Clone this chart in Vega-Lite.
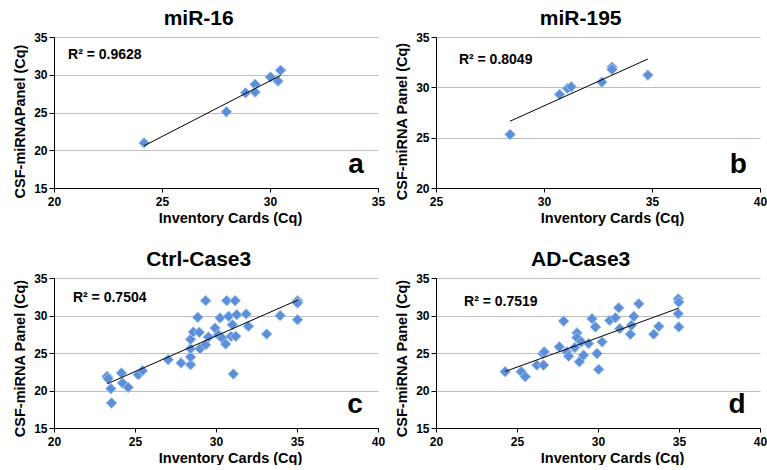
{
  "$schema": "https://vega.github.io/schema/vega-lite/v6.json",
  "background": "white",
  "padding": {"left": 12, "top": 8, "right": 0, "bottom": 0},
  "datasets": {
    "a": [
      {"cards": 24.17, "panel": 20.97}, {"cards": 27.98, "panel": 25.09}, {"cards": 28.87, "panel": 27.61},
      {"cards": 29.31, "panel": 28.72}, {"cards": 29.31, "panel": 27.7}, {"cards": 30.02, "panel": 29.69},
      {"cards": 30.37, "panel": 29.16}, {"cards": 30.49, "panel": 30.58}
    ],
    "b": [
      {"cards": 28.43, "panel": 25.31}, {"cards": 30.72, "panel": 29.29}, {"cards": 31.09, "panel": 29.89},
      {"cards": 31.26, "panel": 30.05}, {"cards": 32.68, "panel": 30.52}, {"cards": 33.15, "panel": 32.01},
      {"cards": 33.15, "panel": 31.78}, {"cards": 34.81, "panel": 31.22}
    ],
    "c": [
      {"cards": 23.28, "panel": 21.89}, {"cards": 23.34, "panel": 21.58}, {"cards": 23.51, "panel": 20.24},
      {"cards": 23.55, "panel": 18.33}, {"cards": 24.16, "panel": 22.33}, {"cards": 24.23, "panel": 21.0},
      {"cards": 24.58, "panel": 20.42}, {"cards": 25.2, "panel": 22.11}, {"cards": 25.46, "panel": 22.64},
      {"cards": 27.05, "panel": 24.11}, {"cards": 27.84, "panel": 23.67}, {"cards": 28.43, "panel": 23.44},
      {"cards": 28.43, "panel": 24.47}, {"cards": 28.43, "panel": 25.58}, {"cards": 28.43, "panel": 26.82},
      {"cards": 28.6, "panel": 27.8}, {"cards": 28.87, "panel": 29.76}, {"cards": 28.97, "panel": 27.76},
      {"cards": 29.01, "panel": 25.58}, {"cards": 29.36, "panel": 31.98}, {"cards": 29.36, "panel": 26.11},
      {"cards": 29.53, "panel": 27.13}, {"cards": 29.94, "panel": 28.33}, {"cards": 30.25, "panel": 29.67},
      {"cards": 30.14, "panel": 27.44}, {"cards": 30.37, "panel": 27.0}, {"cards": 30.6, "panel": 26.2},
      {"cards": 30.66, "panel": 31.98}, {"cards": 30.78, "panel": 29.89}, {"cards": 30.93, "panel": 27.22},
      {"cards": 31.01, "panel": 28.78}, {"cards": 31.07, "panel": 22.2}, {"cards": 31.18, "panel": 31.98},
      {"cards": 31.22, "panel": 27.22}, {"cards": 31.28, "panel": 30.11}, {"cards": 31.86, "panel": 30.2},
      {"cards": 32.0, "panel": 28.56}, {"cards": 33.13, "panel": 27.53}, {"cards": 33.96, "panel": 29.98},
      {"cards": 35.03, "panel": 31.98}, {"cards": 35.03, "panel": 31.67}, {"cards": 35.03, "panel": 29.44}
    ],
    "d": [
      {"cards": 24.27, "panel": 22.51}, {"cards": 25.26, "panel": 22.51}, {"cards": 25.51, "panel": 21.84},
      {"cards": 26.23, "panel": 23.39}, {"cards": 26.6, "panel": 24.93}, {"cards": 26.64, "panel": 23.39},
      {"cards": 26.68, "panel": 25.15}, {"cards": 27.61, "panel": 25.82}, {"cards": 27.88, "panel": 29.26},
      {"cards": 28.08, "panel": 25.15}, {"cards": 28.19, "panel": 24.58}, {"cards": 28.56, "panel": 25.73},
      {"cards": 28.7, "panel": 27.67}, {"cards": 28.7, "panel": 27.05}, {"cards": 28.85, "panel": 23.83},
      {"cards": 28.97, "panel": 26.48}, {"cards": 29.11, "panel": 24.71}, {"cards": 29.42, "panel": 26.26},
      {"cards": 29.63, "panel": 29.57}, {"cards": 29.84, "panel": 28.47}, {"cards": 29.94, "panel": 24.93},
      {"cards": 30.04, "panel": 22.81}, {"cards": 30.25, "panel": 26.48}, {"cards": 30.72, "panel": 29.35},
      {"cards": 31.07, "panel": 29.7}, {"cards": 31.28, "panel": 31.03}, {"cards": 31.34, "panel": 28.25},
      {"cards": 32.0, "panel": 27.5}, {"cards": 32.06, "panel": 28.69}, {"cards": 32.21, "panel": 29.88},
      {"cards": 32.52, "panel": 31.56}, {"cards": 33.44, "panel": 27.5}, {"cards": 33.75, "panel": 28.55},
      {"cards": 34.95, "panel": 32.22}, {"cards": 34.99, "panel": 31.78}, {"cards": 34.95, "panel": 30.23},
      {"cards": 34.99, "panel": 28.47}
    ],
    "one": [{}]
  },
  "columns": 2,
  "spacing": {"row": 24, "column": 9},
  "concat": [
    {
      "title": "miR-16",
      "width": 324, "height": 151,
      "layer": [
        {
          "data": {"name": "a"},
          "mark": {"type": "point", "shape": "diamond", "filled": true, "size": 115, "fill": "#5b8fd8", "stroke": "#a9c6ee", "strokeWidth": 1, "opacity": 1},
          "encoding": {
            "x": {"field": "cards", "type": "quantitative", "scale": {"domain": [20, 35], "nice": false, "zero": false}, "axis": {"values": [20, 25, 30, 35], "title": "Inventory Cards (Cq)", "titleX": 176, "labelOverlap": false}},
            "y": {"field": "panel", "type": "quantitative", "scale": {"domain": [15, 35], "nice": false, "zero": false}, "axis": {"values": [15, 20, 25, 30, 35], "title": "CSF-miRNAPanel (Cq)", "titleY": 84, "labelOverlap": false}}
          }
        },
        {
          "data": {"name": "a"},
          "transform": [{"regression": "panel", "on": "cards"}],
          "mark": {"type": "line", "color": "black", "strokeWidth": 1},
          "encoding": {
            "x": {"field": "cards", "type": "quantitative", "axis": {"values": [20, 25, 30, 35], "title": "Inventory Cards (Cq)", "titleX": 176, "labelOverlap": false}},
            "y": {"field": "panel", "type": "quantitative", "axis": {"values": [15, 20, 25, 30, 35], "title": "CSF-miRNAPanel (Cq)", "titleY": 84, "labelOverlap": false}}
          }
        },
        {
          "data": {"name": "one"},
          "mark": {"type": "text", "text": "R² = 0.9628", "align": "left", "baseline": "alphabetic", "fontSize": 14, "fontWeight": "bold", "color": "black"},
          "encoding": {
            "x": {"datum": 20.65, "type": "quantitative", "axis": {"values": [20, 25, 30, 35], "title": "Inventory Cards (Cq)", "titleX": 176, "labelOverlap": false}},
            "y": {"datum": 32.1, "type": "quantitative", "axis": {"values": [15, 20, 25, 30, 35], "title": "CSF-miRNAPanel (Cq)", "titleY": 84, "labelOverlap": false}}
          }
        },
        {
          "data": {"name": "one"},
          "mark": {"type": "text", "text": "a", "align": "center", "baseline": "alphabetic", "fontSize": 28, "fontWeight": "bold", "color": "black"},
          "encoding": {
            "x": {"datum": 33.98, "type": "quantitative", "axis": {"values": [20, 25, 30, 35], "title": "Inventory Cards (Cq)", "titleX": 176, "labelOverlap": false}},
            "y": {"datum": 17.0, "type": "quantitative", "axis": {"values": [15, 20, 25, 30, 35], "title": "CSF-miRNAPanel (Cq)", "titleY": 84, "labelOverlap": false}}
          }
        }
      ]
    },
    {
      "title": "miR-195",
      "width": 324, "height": 151,
      "layer": [
        {
          "data": {"name": "b"},
          "mark": {"type": "point", "shape": "diamond", "filled": true, "size": 115, "fill": "#5b8fd8", "stroke": "#a9c6ee", "strokeWidth": 1, "opacity": 1},
          "encoding": {
            "x": {"field": "cards", "type": "quantitative", "scale": {"domain": [25, 40], "nice": false, "zero": false}, "axis": {"values": [25, 30, 35, 40], "title": "Inventory Cards (Cq)", "titleX": 176, "labelOverlap": false}},
            "y": {"field": "panel", "type": "quantitative", "scale": {"domain": [20, 35], "nice": false, "zero": false}, "axis": {"values": [20, 25, 30, 35], "title": "CSF-miRNA Panel (Cq)", "titleY": 84, "labelOverlap": false}}
          }
        },
        {
          "data": {"name": "b"},
          "transform": [{"regression": "panel", "on": "cards"}],
          "mark": {"type": "line", "color": "black", "strokeWidth": 1},
          "encoding": {
            "x": {"field": "cards", "type": "quantitative", "axis": {"values": [25, 30, 35, 40], "title": "Inventory Cards (Cq)", "titleX": 176, "labelOverlap": false}},
            "y": {"field": "panel", "type": "quantitative", "axis": {"values": [20, 25, 30, 35], "title": "CSF-miRNA Panel (Cq)", "titleY": 84, "labelOverlap": false}}
          }
        },
        {
          "data": {"name": "one"},
          "mark": {"type": "text", "text": "R² = 0.8049", "align": "left", "baseline": "alphabetic", "fontSize": 14, "fontWeight": "bold", "color": "black"},
          "encoding": {
            "x": {"datum": 26.06, "type": "quantitative", "axis": {"values": [25, 30, 35, 40], "title": "Inventory Cards (Cq)", "titleX": 176, "labelOverlap": false}},
            "y": {"datum": 32.3, "type": "quantitative", "axis": {"values": [20, 25, 30, 35], "title": "CSF-miRNA Panel (Cq)", "titleY": 84, "labelOverlap": false}}
          }
        },
        {
          "data": {"name": "one"},
          "mark": {"type": "text", "text": "b", "align": "center", "baseline": "alphabetic", "fontSize": 28, "fontWeight": "bold", "color": "black"},
          "encoding": {
            "x": {"datum": 39.0, "type": "quantitative", "axis": {"values": [25, 30, 35, 40], "title": "Inventory Cards (Cq)", "titleX": 176, "labelOverlap": false}},
            "y": {"datum": 21.5, "type": "quantitative", "axis": {"values": [20, 25, 30, 35], "title": "CSF-miRNA Panel (Cq)", "titleY": 84, "labelOverlap": false}}
          }
        }
      ]
    },
    {
      "title": "Ctrl-Case3",
      "width": 324, "height": 150,
      "layer": [
        {
          "data": {"name": "c"},
          "mark": {"type": "point", "shape": "diamond", "filled": true, "size": 115, "fill": "#5b8fd8", "stroke": "#a9c6ee", "strokeWidth": 1, "opacity": 1},
          "encoding": {
            "x": {"field": "cards", "type": "quantitative", "scale": {"domain": [20, 40], "nice": false, "zero": false}, "axis": {"values": [20, 25, 30, 35, 40], "title": "Inventory Cards (Cq)", "titleX": 176, "labelOverlap": false}},
            "y": {"field": "panel", "type": "quantitative", "scale": {"domain": [15, 35], "nice": false, "zero": false}, "axis": {"values": [15, 20, 25, 30, 35], "title": "CSF-miRNA Panel (Cq)", "titleY": 80, "labelOverlap": false}}
          }
        },
        {
          "data": {"name": "c"},
          "transform": [{"regression": "panel", "on": "cards"}],
          "mark": {"type": "line", "color": "black", "strokeWidth": 1},
          "encoding": {
            "x": {"field": "cards", "type": "quantitative", "axis": {"values": [20, 25, 30, 35, 40], "title": "Inventory Cards (Cq)", "titleX": 176, "labelOverlap": false}},
            "y": {"field": "panel", "type": "quantitative", "axis": {"values": [15, 20, 25, 30, 35], "title": "CSF-miRNA Panel (Cq)", "titleY": 80, "labelOverlap": false}}
          }
        },
        {
          "data": {"name": "one"},
          "mark": {"type": "text", "text": "R² = 0.7504", "align": "left", "baseline": "alphabetic", "fontSize": 14, "fontWeight": "bold", "color": "black"},
          "encoding": {
            "x": {"datum": 21.17, "type": "quantitative", "axis": {"values": [20, 25, 30, 35, 40], "title": "Inventory Cards (Cq)", "titleX": 176, "labelOverlap": false}},
            "y": {"datum": 31.8, "type": "quantitative", "axis": {"values": [15, 20, 25, 30, 35], "title": "CSF-miRNA Panel (Cq)", "titleY": 80, "labelOverlap": false}}
          }
        },
        {
          "data": {"name": "one"},
          "mark": {"type": "text", "text": "c", "align": "center", "baseline": "alphabetic", "fontSize": 28, "fontWeight": "bold", "color": "black"},
          "encoding": {
            "x": {"datum": 38.58, "type": "quantitative", "axis": {"values": [20, 25, 30, 35, 40], "title": "Inventory Cards (Cq)", "titleX": 176, "labelOverlap": false}},
            "y": {"datum": 17.0, "type": "quantitative", "axis": {"values": [15, 20, 25, 30, 35], "title": "CSF-miRNA Panel (Cq)", "titleY": 80, "labelOverlap": false}}
          }
        }
      ]
    },
    {
      "title": "AD-Case3",
      "width": 324, "height": 150,
      "layer": [
        {
          "data": {"name": "d"},
          "mark": {"type": "point", "shape": "diamond", "filled": true, "size": 115, "fill": "#5b8fd8", "stroke": "#a9c6ee", "strokeWidth": 1, "opacity": 1},
          "encoding": {
            "x": {"field": "cards", "type": "quantitative", "scale": {"domain": [20, 40], "nice": false, "zero": false}, "axis": {"values": [20, 25, 30, 35, 40], "title": "Inventory Cards (Cq)", "titleX": 176, "labelOverlap": false}},
            "y": {"field": "panel", "type": "quantitative", "scale": {"domain": [15, 35], "nice": false, "zero": false}, "axis": {"values": [15, 20, 25, 30, 35], "title": "CSF-miRNA Panel (Cq)", "titleY": 80, "labelOverlap": false}}
          }
        },
        {
          "data": {"name": "d"},
          "transform": [{"regression": "panel", "on": "cards"}],
          "mark": {"type": "line", "color": "black", "strokeWidth": 1},
          "encoding": {
            "x": {"field": "cards", "type": "quantitative", "axis": {"values": [20, 25, 30, 35, 40], "title": "Inventory Cards (Cq)", "titleX": 176, "labelOverlap": false}},
            "y": {"field": "panel", "type": "quantitative", "axis": {"values": [15, 20, 25, 30, 35], "title": "CSF-miRNA Panel (Cq)", "titleY": 80, "labelOverlap": false}}
          }
        },
        {
          "data": {"name": "one"},
          "mark": {"type": "text", "text": "R² = 0.7519", "align": "left", "baseline": "alphabetic", "fontSize": 14, "fontWeight": "bold", "color": "black"},
          "encoding": {
            "x": {"datum": 21.73, "type": "quantitative", "axis": {"values": [20, 25, 30, 35, 40], "title": "Inventory Cards (Cq)", "titleX": 176, "labelOverlap": false}},
            "y": {"datum": 31.27, "type": "quantitative", "axis": {"values": [15, 20, 25, 30, 35], "title": "CSF-miRNA Panel (Cq)", "titleY": 80, "labelOverlap": false}}
          }
        },
        {
          "data": {"name": "one"},
          "mark": {"type": "text", "text": "d", "align": "center", "baseline": "alphabetic", "fontSize": 28, "fontWeight": "bold", "color": "black"},
          "encoding": {
            "x": {"datum": 38.58, "type": "quantitative", "axis": {"values": [20, 25, 30, 35, 40], "title": "Inventory Cards (Cq)", "titleX": 176, "labelOverlap": false}},
            "y": {"datum": 17.0, "type": "quantitative", "axis": {"values": [15, 20, 25, 30, 35], "title": "CSF-miRNA Panel (Cq)", "titleY": 80, "labelOverlap": false}}
          }
        }
      ]
    }
  ],
  "config": {
    "font": "Liberation Sans",
    "view": {"stroke": null},
    "title": {"fontSize": 21, "fontWeight": "bold", "color": "black", "frame": "bounds", "anchor": "middle", "offset": 2},
    "axis": {
      "labelFont": "Liberation Sans", "labelFontSize": 12, "labelFontWeight": "bold", "labelColor": "black",
      "titleFont": "Liberation Sans", "titleFontSize": 14.5, "titleFontWeight": "bold", "titleColor": "black",
      "domainColor": "black", "domainWidth": 1, "tickColor": "black", "labelFlush": false, "labelOverlap": false
    },
    "axisX": {"grid": false, "tickSize": 4, "labelPadding": 4, "titlePadding": 4},
    "axisY": {"grid": true, "gridColor": "#bdbdbd", "gridOpacity": 1, "tickSize": 5, "labelPadding": 2, "titlePadding": 6}
  }
}
